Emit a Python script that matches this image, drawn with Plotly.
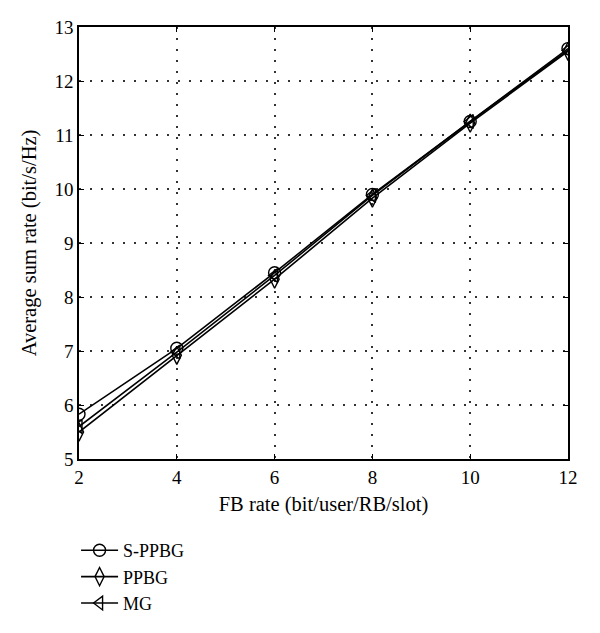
import plotly.graph_objects as go

fb_rate = [2, 4, 6, 8, 10, 12]
s_ppbg = [5.83, 7.05, 8.45, 9.90, 11.25, 12.60]
ppbg = [5.50, 6.92, 8.33, 9.83, 11.22, 12.55]
mg = [5.60, 6.98, 8.40, 9.88, 11.25, 12.57]

series = [
    ("S-PPBG", s_ppbg, "circle-open", 12),
    ("PPBG", ppbg, "diamond-tall-open", 13),
    ("MG", mg, "triangle-left-open", 12),
]

fig = go.Figure()
for name, vals, sym, sz in series:
    fig.add_trace(go.Scatter(
        x=fb_rate, y=vals, name=name, mode="lines+markers",
        line=dict(color="black", width=1.6),
        marker=dict(symbol=sym, size=sz, color="black", line=dict(width=1.4, color="black")),
    ))

axis_common = dict(
    showline=True, linecolor="black", linewidth=1.5, mirror="ticks",
    ticks="inside", ticklen=5, tickcolor="black", tickwidth=1.2,
    showgrid=True, gridcolor="#333333", griddash="1.5px,9.5px", gridwidth=1.5,
    zeroline=False, tickfont=dict(size=19, color="black"),
    automargin=False,
)

fig.update_layout(
    width=600, height=633,
    margin=dict(l=71, r=40, t=19, b=182),
    paper_bgcolor="white", plot_bgcolor="white",
    font=dict(family="Liberation Serif", color="black", size=19),
    xaxis=dict(range=[2, 12], tickvals=[2, 4, 6, 8, 10, 12],
               title=dict(text="FB rate (bit/user/RB/slot)", font=dict(size=20.5), standoff=10),
               **axis_common),
    yaxis=dict(range=[5, 13], tickvals=list(range(5, 14)),
               title=dict(text="Average sum rate (bit/s/Hz)", font=dict(size=20.5), standoff=12),
               **axis_common),
    legend=dict(x=-0.006, y=-0.169, xanchor="left", yanchor="top",
                bgcolor="rgba(0,0,0,0)", font=dict(size=18), tracegroupgap=0,
                itemwidth=37),
    showlegend=True,
)

fig.write_html("out.html")
